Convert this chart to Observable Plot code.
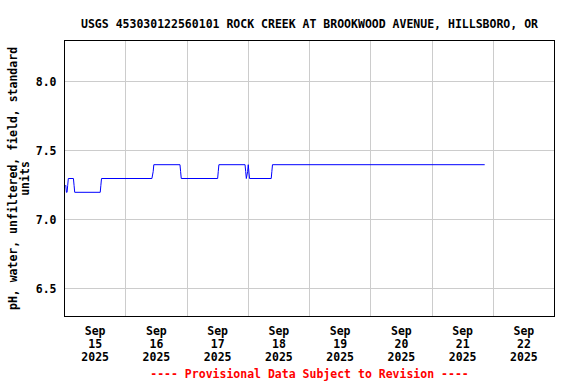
<!DOCTYPE html>
<html>
<head>
<meta charset="utf-8">
<script src="https://cdn.jsdelivr.net/npm/d3@7"></script>
<script src="https://cdn.jsdelivr.net/npm/@observablehq/plot@0.6"></script>
<style>
  html, body { margin: 0; padding: 0; background: white; }
</style>
</head>
<body>
<div id="chart"></div>
<script>
const title = "USGS 453030122560101 ROCK CREEK AT BROOKWOOD AVENUE, HILLSBORO, OR";
const yLabel = "pH, water, unfiltered, field, standard\nunits";
const caption = "---- Provisional Data Subject to Revision ----";

const times = [
  "2025-09-15T00:30Z", "2025-09-15T00:45Z", "2025-09-15T01:00Z", "2025-09-15T01:15Z",
  "2025-09-15T01:30Z", "2025-09-15T03:30Z", "2025-09-15T03:45Z", "2025-09-15T04:00Z",
  "2025-09-15T14:00Z", "2025-09-15T14:15Z", "2025-09-15T14:30Z",
  "2025-09-16T10:15Z", "2025-09-16T10:45Z", "2025-09-16T11:00Z",
  "2025-09-16T21:15Z", "2025-09-16T21:30Z", "2025-09-16T21:45Z",
  "2025-09-17T12:00Z", "2025-09-17T12:15Z", "2025-09-17T12:30Z",
  "2025-09-17T22:45Z", "2025-09-17T23:00Z", "2025-09-17T23:15Z", "2025-09-17T23:45Z",
  "2025-09-18T00:00Z", "2025-09-18T00:30Z",
  "2025-09-18T09:00Z", "2025-09-18T09:15Z", "2025-09-18T09:30Z",
  "2025-09-21T20:30Z"
];
const ph = [
  7.25, 7.2, 7.2, 7.25,
  7.3, 7.3, 7.25, 7.2,
  7.2, 7.25, 7.3,
  7.3, 7.35, 7.4,
  7.4, 7.35, 7.3,
  7.3, 7.35, 7.4,
  7.4, 7.35, 7.3, 7.35,
  7.4, 7.3,
  7.3, 7.35, 7.4,
  7.4
];

const tickMonth = "Sep";
const tickYear = "2025";
const tickDays = [15, 16, 17, 18, 19, 20, 21, 22];
const gridDays = [16, 17, 18, 19, 20, 21, 22];
const yTicks = [6.5, 7.0, 7.5, 8.0];
const yDomain = [6.3, 8.3];
const xDomain = ["2025-09-15T00:00Z", "2025-09-23T00:00Z"];

const data = times.map((t, i) => ({time: new Date(t), ph: ph[i]}));
const noon = tickDays.map(d => new Date(Date.UTC(2025, 8, d, 12)));
const midnight = gridDays.map(d => new Date(Date.UTC(2025, 8, d, 0)));
const fmt = d => `${tickMonth}\n${d.getUTCDate()}\n${tickYear}`;

const font = "DejaVu Sans Mono";
const fs = 11.5;

const chart = Plot.plot({
  width: 576,
  height: 384,
  marginTop: 40,
  marginBottom: 68,
  marginLeft: 64,
  marginRight: 22,
  style: {fontFamily: font, fontSize: fs + "px", fontWeight: "bold", background: "white", color: "black"},
  x: {type: "utc", domain: xDomain.map(s => new Date(s))},
  y: {domain: yDomain},
  marks: [
    Plot.gridX(midnight, {stroke: "#cccccc", strokeOpacity: 1, strokeWidth: 1, shapeRendering: "crispEdges"}),
    Plot.gridY(yTicks, {stroke: "#cccccc", strokeOpacity: 1, strokeWidth: 1, shapeRendering: "crispEdges"}),
    Plot.line(data, {x: "time", y: "ph", stroke: "#0000ff", strokeWidth: 1}),
    Plot.frame({stroke: "black", strokeWidth: 1, shapeRendering: "crispEdges"}),
    Plot.axisX(noon, {tickSize: 0, tickPadding: 9, tickFormat: fmt, lineHeight: 1.13, fontWeight: "bold", fill: "black", label: null}),
    Plot.axisY(yTicks, {tickSize: 0, tickPadding: 8, tickFormat: d3.format(".1f"), fontWeight: "bold", fill: "black", label: null}),
    Plot.text([title], {text: d => d, frameAnchor: "top", dy: -21, fontSize: fs, fontWeight: "bold", fill: "black"}),
    Plot.text([yLabel], {text: d => d, frameAnchor: "left", textAnchor: "middle", lineAnchor: "middle", dx: -45, rotate: -90, lineHeight: 1.05, fontSize: fs, fontWeight: "bold", fill: "black"}),
    Plot.text([caption], {text: d => d, frameAnchor: "bottom", dy: 61, fontSize: fs, fontWeight: "bold", fill: "red"})
  ]
});
document.getElementById("chart").appendChild(chart);
</script>
</body>
</html>
